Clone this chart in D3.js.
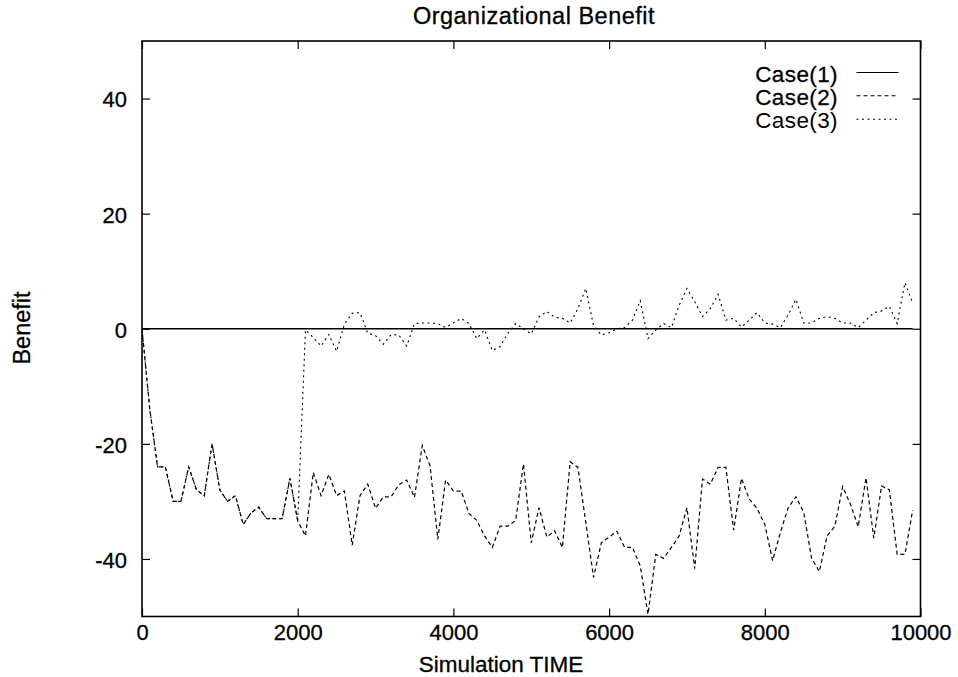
<!DOCTYPE html>
<html>
<head>
<meta charset="utf-8">
<script src="https://cdn.jsdelivr.net/npm/d3@7/dist/d3.min.js"></script>
<style>
  html, body { margin: 0; padding: 0; background: #fff; }
  svg { display: block; }
  text { font-family: "Liberation Sans", Arial, Helvetica, sans-serif; fill: #000; }
</style>
</head>
<body>
<div id="chart"></div>
<script>
// Simulation time steps (x values)
const times = [
  0, 100, 200, 300, 400, 500, 600, 700, 800, 900,
  1000, 1100, 1200, 1300, 1400, 1500, 1600, 1700, 1800, 1900,
  2000, 2100, 2200, 2300, 2400, 2500, 2600, 2700, 2800, 2900,
  3000, 3100, 3200, 3300, 3400, 3500, 3600, 3700, 3800, 3900,
  4000, 4100, 4200, 4300, 4400, 4500, 4600, 4700, 4800, 4900,
  5000, 5100, 5200, 5300, 5400, 5500, 5600, 5700, 5800, 5900,
  6000, 6100, 6200, 6300, 6400, 6500, 6600, 6700, 6800, 6900,
  7000, 7100, 7200, 7300, 7400, 7500, 7600, 7700, 7800, 7900,
  8000, 8100, 8200, 8300, 8400, 8500, 8600, 8700, 8800, 8900,
  9000, 9100, 9200, 9300, 9400, 9500, 9600, 9700, 9800, 9900
];

// Case(1): benefit stays at zero
const case1 = [
  0, 0, 0, 0, 0, 0, 0, 0, 0, 0,
  0, 0, 0, 0, 0, 0, 0, 0, 0, 0,
  0, 0, 0, 0, 0, 0, 0, 0, 0, 0,
  0, 0, 0, 0, 0, 0, 0, 0, 0, 0,
  0, 0, 0, 0, 0, 0, 0, 0, 0, 0,
  0, 0, 0, 0, 0, 0, 0, 0, 0, 0,
  0, 0, 0, 0, 0, 0, 0, 0, 0, 0,
  0, 0, 0, 0, 0, 0, 0, 0, 0, 0,
  0, 0, 0, 0, 0, 0, 0, 0, 0, 0,
  0, 0, 0, 0, 0, 0, 0, 0, 0, 0
];

// Case(2)
const case2 = [
  0, -14, -24, -24, -30, -30, -24, -28, -29, -20,
  -28, -30, -29, -34, -32, -31, -33, -33, -33, -26,
  -33.4, -36, -25, -29, -25.3, -29, -28.2, -37.6, -29, -27,
  -31.2, -29.2, -29.2, -27.1, -26.3, -29.3, -20.3, -23.8, -36.6, -26.3,
  -28.2, -28.2, -32.1, -33.3, -36, -38, -34.3, -34.3, -33.3, -23.5,
  -37.2, -31.1, -36.2, -35.1, -38, -23.1, -24.1, -33.6, -43.2, -37.2,
  -36.2, -35.2, -38, -38, -41.2, -49.6, -39.2, -39.9, -38, -36,
  -31.1, -41.7, -26.1, -27, -24.1, -24.1, -35, -26, -29.6, -31.2,
  -34, -40.3, -35.4, -31.1, -29.2, -31.9, -39.8, -42.2, -36, -34.3,
  -27.4, -30.5, -34.4, -25.9, -36.4, -27.3, -28, -39.2, -39.2, -31.5
];

// Case(3): follows Case(2) until t = 2000, then recovers to around zero
const case3 = [
  0, -14, -24, -24, -30, -30, -24, -28, -29, -20,
  -28, -30, -29, -34, -32, -31, -33, -33, -33, -26,
  -33.4, -0.2, -1.5, -3.0, -1.0, -3.9, 0.8, 2.7, 2.8, -0.8,
  -1.2, -2.7, -1.0, -1.1, -3.0, 0.9, 1.0, 1.0, 0.9, 0.2,
  1.0, 1.8, 0.9, -1.7, -0.2, -3.8, -3.1, -0.8, 0.9, 0,
  -0.9, 2.1, 3.0, 2.0, 1.8, 1.0, 3.5, 7.0, 0.6, -1.1,
  -0.7, 0, 0.2, 1.5, 4.9, -1.7, -0.2, 0.9, 0.2, 4.1,
  7.0, 4.7, 2.1, 3.5, 6.0, 1.5, 1.8, 0.3, 1.5, 2.8,
  1.0, 0.8, 0.2, 2.4, 5.1, 1.0, 1.0, 1.8, 2.1, 1.8,
  1.0, 1.0, 0.2, 1.5, 2.8, 3.1, 3.9, 0.9, 8.0, 4.5
];

const seriesNames = ["Case(1)", "Case(2)", "Case(3)"];
const xTicks = [0, 2000, 4000, 6000, 8000, 10000];
const yTicks = [-40, -20, 0, 20, 40];
const titleText = "Organizational Benefit";
const xLabel = "Simulation TIME";
const yLabel = "Benefit";

const W = 958, H = 677;
const plot = { left: 142, right: 920.5, top: 41, bottom: 616.5 };

const svg = d3.select("#chart").append("svg")
  .attr("width", W).attr("height", H);

const x = d3.scaleLinear().domain([0, 10000]).range([plot.left, plot.right]);
const y = d3.scaleLinear().domain([-50, 50]).range([plot.bottom, plot.top]);

const tickFont = 22;
const tick = 8;
const textStroke = 0.3;

// Axes: labelled on left/bottom, mirrored inward ticks on top/right
const gBottom = svg.append("g").attr("transform", `translate(0,${plot.bottom})`)
  .call(d3.axisBottom(x).tickValues(xTicks).tickSizeInner(-tick).tickSizeOuter(0)
    .tickPadding(8).tickFormat(d => String(d)));
const gLeft = svg.append("g").attr("transform", `translate(${plot.left},0)`)
  .call(d3.axisLeft(y).tickValues(yTicks).tickSizeInner(-tick).tickSizeOuter(0)
    .tickPadding(15).tickFormat(d => String(d)));
const gTop = svg.append("g").attr("transform", `translate(0,${plot.top})`)
  .call(d3.axisTop(x).tickValues(xTicks).tickSizeInner(-tick).tickSizeOuter(0).tickFormat(""));
const gRight = svg.append("g").attr("transform", `translate(${plot.right},0)`)
  .call(d3.axisRight(y).tickValues(yTicks).tickSizeInner(-tick).tickSizeOuter(0).tickFormat(""));

[gBottom, gLeft, gTop, gRight].forEach(g => {
  g.select(".domain").remove();
  g.selectAll(".tick line").attr("stroke", "#000").attr("stroke-width", 1.2);
  g.selectAll(".tick text").attr("font-size", tickFont).attr("fill", "#000")
    .attr("stroke", "#000").attr("stroke-width", textStroke)
    .style("font-family", '"Liberation Sans", Arial, sans-serif');
});
gLeft.selectAll(".tick text").attr("dy", "0.38em");

// Data lines
const rows = times.map((t, i) => ({ t, c1: case1[i], c2: case2[i], c3: case3[i] }));
const lineFor = key => d3.line().x(d => x(d.t)).y(d => y(d[key]));

const styles = [
  { key: "c1", dash: null, width: 1.7 },
  { key: "c2", dash: "4,3", width: 1.2 },
  { key: "c3", dash: "2,3.5", width: 1.1 }
];

svg.append("clipPath").attr("id", "plot-clip").append("rect")
  .attr("x", plot.left).attr("y", plot.top)
  .attr("width", plot.right - plot.left).attr("height", plot.bottom - plot.top);

const gLines = svg.append("g").attr("clip-path", "url(#plot-clip)");
// draw Case(3) first, Case(1) on top
[styles[2], styles[1], styles[0]].forEach(s => {
  gLines.append("path")
    .datum(rows)
    .attr("fill", "none")
    .attr("stroke", "#000")
    .attr("stroke-width", s.width)
    .attr("stroke-dasharray", s.dash)
    .attr("d", lineFor(s.key));
});

// Plot frame
svg.append("rect")
  .attr("x", plot.left).attr("y", plot.top)
  .attr("width", plot.right - plot.left).attr("height", plot.bottom - plot.top)
  .attr("fill", "none").attr("stroke", "#000").attr("stroke-width", 1.6);

// Title and axis labels
svg.append("text")
  .attr("x", 534).attr("y", 24)
  .attr("text-anchor", "middle").attr("font-size", 23.5)
  .attr("letter-spacing", 0.5)
  .attr("stroke", "#000").attr("stroke-width", textStroke)
  .text(titleText);

svg.append("text")
  .attr("x", 501).attr("y", 672)
  .attr("text-anchor", "middle").attr("font-size", 22.5)
  .attr("stroke", "#000").attr("stroke-width", textStroke)
  .text(xLabel);

svg.append("text")
  .attr("transform", "translate(30,328) rotate(-90)")
  .attr("text-anchor", "middle").attr("font-size", 23.5)
  .attr("stroke", "#000").attr("stroke-width", textStroke)
  .text(yLabel);

// Legend
const legendX = 838, legendLine = [856.5, 898.5];
const legendBase = [81.5, 104.8, 128.2];
const legendFill = ["#000", "#111", "#444"];
seriesNames.forEach((name, i) => {
  const s = styles[i];
  svg.append("text")
    .attr("x", legendX).attr("y", legendBase[i])
    .attr("text-anchor", "end").attr("font-size", 22.5)
    .attr("letter-spacing", 0.4)
    .attr("fill", legendFill[i])
    .attr("stroke", legendFill[i]).attr("stroke-width", i === 2 ? 0 : textStroke)
    .text(name);
  svg.append("line")
    .attr("x1", legendLine[0]).attr("x2", legendLine[1])
    .attr("y1", legendBase[i] - 9).attr("y2", legendBase[i] - 9)
    .attr("stroke", "#000")
    .attr("stroke-width", i === 0 ? 1.2 : 1.1)
    .attr("stroke-dasharray", s.dash);
});
</script>
</body>
</html>
